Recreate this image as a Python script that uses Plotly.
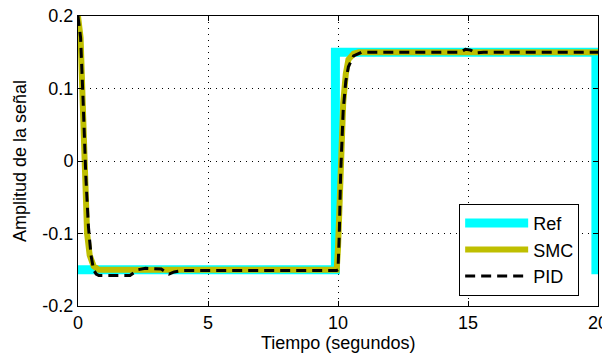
import plotly.graph_objects as go

# Reference signal
ref_t = [0, 9.9, 9.9, 19.92, 19.92, 20]
ref_y = [-0.15, -0.15, 0.15, 0.15, -0.15, -0.15]

# SMC response
smc_t = [0, 0.1, 0.2, 0.3, 0.35, 0.45, 0.6, 0.8, 2.0, 3.0, 5.0, 9.95,
         10.0, 10.05, 10.1, 10.2, 10.3, 10.4, 10.6, 10.8, 15.0, 20.0]
smc_y = [0.2, 0.17, 0.06, -0.06, -0.1, -0.13, -0.145, -0.15, -0.15, -0.149, -0.15, -0.15,
         -0.12, -0.05, 0.0, 0.08, 0.12, 0.14, 0.148, 0.15, 0.15, 0.15]

# PID response
pid_t = [0, 0.1, 0.2, 0.3, 0.4, 0.5, 0.6, 0.7, 0.8, 2.0, 2.3, 2.6, 3.2, 3.5, 3.7, 4.0,
         9.95, 10.0, 10.05, 10.1, 10.2, 10.3, 10.4, 10.6, 10.9,
         14.7, 14.9, 15.1, 15.3, 15.6, 20.0]
pid_y = [0.2, 0.17, 0.08, -0.02, -0.09, -0.13, -0.15, -0.156, -0.158, -0.158, -0.15, -0.148,
         -0.149, -0.156, -0.153, -0.151,
         -0.151, -0.15, -0.1, -0.02, 0.07, 0.11, 0.13, 0.145, 0.15,
         0.15, 0.154, 0.153, 0.149, 0.15, 0.15]

x_ticks = [0, 5, 10, 15, 20]
x_ticktext = ["0", "5", "10", "15", "20"]
y_ticks = [-0.2, -0.1, 0, 0.1, 0.2]
y_ticktext = ["-0.2", "-0.1", "0", "0.1", "0.2"]

FONT = "Liberation Sans, Arial, sans-serif"
FS = 18

fig = go.Figure()
fig.add_trace(go.Scatter(x=ref_t, y=ref_y, mode="lines", name="Ref",
                         line=dict(color="#00FFFF", width=9)))
fig.add_trace(go.Scatter(x=smc_t, y=smc_y, mode="lines", name="SMC",
                         line=dict(color="#BFBF00", width=6)))
fig.add_trace(go.Scatter(x=pid_t, y=pid_y, mode="lines", name="PID",
                         line=dict(color="black", width=3, dash="10px,6px")))

axis_common = dict(
    showline=True, linecolor="black", linewidth=1, mirror="ticks",
    ticks="inside", ticklen=5, tickcolor="black",
    showgrid=True, gridcolor="black", gridwidth=1, griddash="1px,5px",
    zeroline=False, tickfont=dict(family=FONT, size=FS, color="black"),
    ticklabeloverflow="allow", automargin=False,
)

fig.update_xaxes(range=[0, 20], tickvals=x_ticks, ticktext=x_ticktext, **axis_common)
fig.update_yaxes(range=[-0.2, 0.2], tickvals=y_ticks, ticktext=y_ticktext, **axis_common)

fig.update_layout(
    width=602, height=357,
    margin=dict(l=78, r=4, t=16, b=51, autoexpand=False),
    paper_bgcolor="white", plot_bgcolor="white",
    font=dict(family=FONT, size=FS, color="black"),
    showlegend=True,
    legend=dict(x=0.733, y=0.352, xanchor="left", yanchor="top",
                bgcolor="white", bordercolor="black", borderwidth=1,
                font=dict(family=FONT, size=FS, color="black"),
                itemwidth=63, tracegroupgap=0),
    annotations=[
        dict(text="Tiempo (segundos)", xref="paper", yref="paper", x=0.5, y=-0.128,
             xanchor="center", yanchor="middle", showarrow=False,
             font=dict(family=FONT, size=FS, color="black")),
        dict(text="Amplitud de la señal", xref="paper", yref="paper", x=-0.1115, y=0.5,
             xanchor="center", yanchor="middle", textangle=-90, showarrow=False,
             font=dict(family=FONT, size=FS, color="black")),
    ],
)

fig.write_html("out.html")
